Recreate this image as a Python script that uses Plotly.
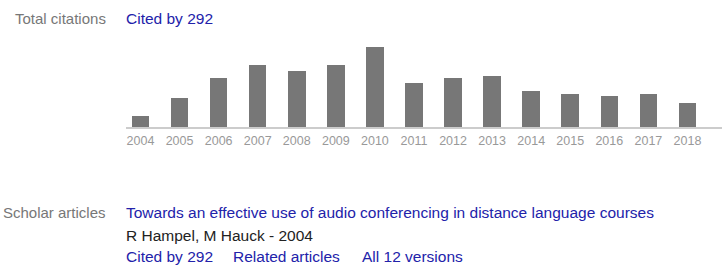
import plotly.graph_objects as go

years = [2004, 2005, 2006, 2007, 2008, 2009, 2010, 2011, 2012, 2013, 2014, 2015, 2016, 2017, 2018]
citations = [5, 13, 22, 28, 25, 28, 36, 20, 22, 23, 16, 15, 14, 15, 11]
tick_labels = [str(y) for y in years]

label_total = "Total citations"
link_cited = "Cited by 292"
label_articles = "Scholar articles"
article_title = "Towards an effective use of audio conferencing in distance language courses"
article_authors = "R Hampel, M Hauck - 2004"
link_related = "Related articles"
link_versions = "All 12 versions"

W, H = 722, 266
FONT = "Liberation Sans, Arial, sans-serif"
BLUE = "#2222aa"
GRAY = "#777777"

fig = go.Figure()
fig.add_trace(go.Bar(
    x=years, y=citations, width=0.45,
    marker=dict(color="#777777", line=dict(width=0)),
    hoverinfo="x+y",
))

def px_x(v):
    return v / W

def px_y(v):
    return 1 - v / H

fig.update_layout(
    width=W, height=H,
    margin=dict(l=0, r=0, t=0, b=0),
    paper_bgcolor="white", plot_bgcolor="white",
    showlegend=False,
    bargap=0,
    xaxis=dict(
        domain=[px_x(126), 1],
        range=[2003.629, 2018.884],
        tickvals=years, ticktext=tick_labels,
        showgrid=False, zeroline=False,
        showline=True, linecolor="#cccccc", linewidth=2,
        ticks="", tickfont=dict(family=FONT, size=12.5, color="#999999"),
        ticklabelstandoff=1,
        fixedrange=True,
    ),
    yaxis=dict(
        domain=[px_y(127), px_y(36)],
        range=[0, 40.95],
        visible=False,
        fixedrange=True,
    ),
)

def ann(text, x, y, color, anchor="left", size=15.5):
    fig.add_annotation(
        text=text, xref="paper", yref="paper",
        x=px_x(x), y=px_y(y), xanchor=anchor, yanchor="middle",
        showarrow=False, font=dict(family=FONT, size=size, color=color),
        borderpad=0,
    )

ann(label_total, 107, 19, GRAY, anchor="right", size=15)
ann(link_cited, 125, 19, BLUE)
ann(label_articles, 107, 212.5, GRAY, anchor="right", size=15)
ann(article_title, 125, 212.5, BLUE)
ann(article_authors, 125, 235, "#222222")
ann(link_cited, 125, 256, BLUE)
ann(link_related, 232, 256, BLUE)
ann(link_versions, 361, 256, BLUE)

fig.write_html(
    "out.html",
    config={"displayModeBar": False},
    post_script="document.body.style.margin='0';document.body.style.overflow='hidden';",
)
